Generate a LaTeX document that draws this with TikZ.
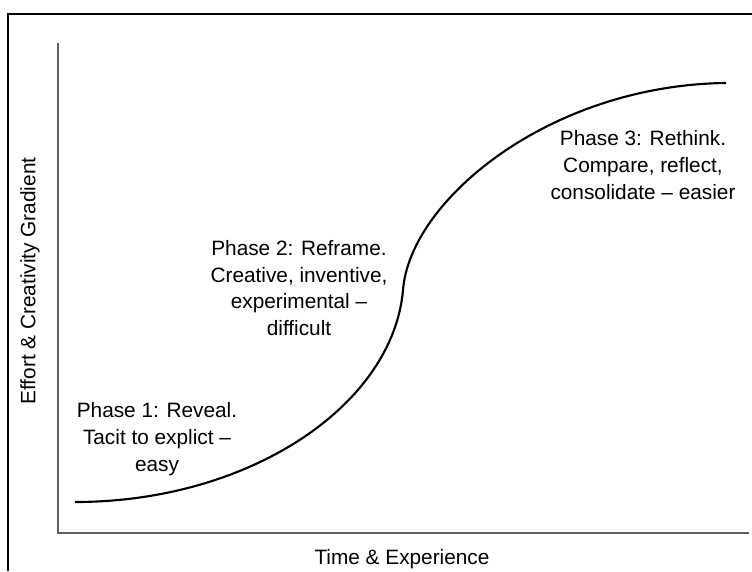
\documentclass[tikz,border=0pt]{standalone}
\usepackage{fontspec}
\setmainfont{Liberation Sans}
\newcommand{\phasefont}{\fontsize{15.6}{20}\selectfont}

\begin{document}
\begin{tikzpicture}[x=0.75pt,y=0.75pt,yscale=-1,xscale=1]
\useasboundingbox (0,0) rectangle (752,571);
% frame
\draw [line width=0.9pt] (8,571) -- (8,14) -- (752,14) ;
% axes
\draw [color={rgb, 255:red, 95; green, 95; blue, 95 }, line width=1pt] (58,43) -- (58,533) -- (749,533) ;
% s-curve
\draw [line width=1.6pt] (75,502) .. controls (250,502) and (393,405) .. (403,290) .. controls (410,200) and (550,85) .. (726,83) ;
% labels
\draw (30,281) node [rotate=90][font=\phasefont][inner sep=0.75pt] (ylab) {Effort \& Creativity Gradient};
\draw (402,559) node [font=\phasefont][inner sep=0.75pt] (xlab) {Time \& Experience};
\draw (157,439) node [align=center][font=\phasefont][inner sep=0.75pt] (phase1) {Phase 1: Reveal.\\ Tacit to explict --\\ easy};
\draw (299,288) node [align=center][font=\phasefont][inner sep=0.75pt] (phase2) {Phase 2: Reframe.\\ Creative, inventive,\\ experimental --\\ difficult};
\draw (643,165) node [align=center][font=\phasefont][inner sep=0.75pt] (phase3) {Phase 3: Rethink.\\ Compare, reflect,\\ consolidate -- easier};
\end{tikzpicture}
\end{document}
